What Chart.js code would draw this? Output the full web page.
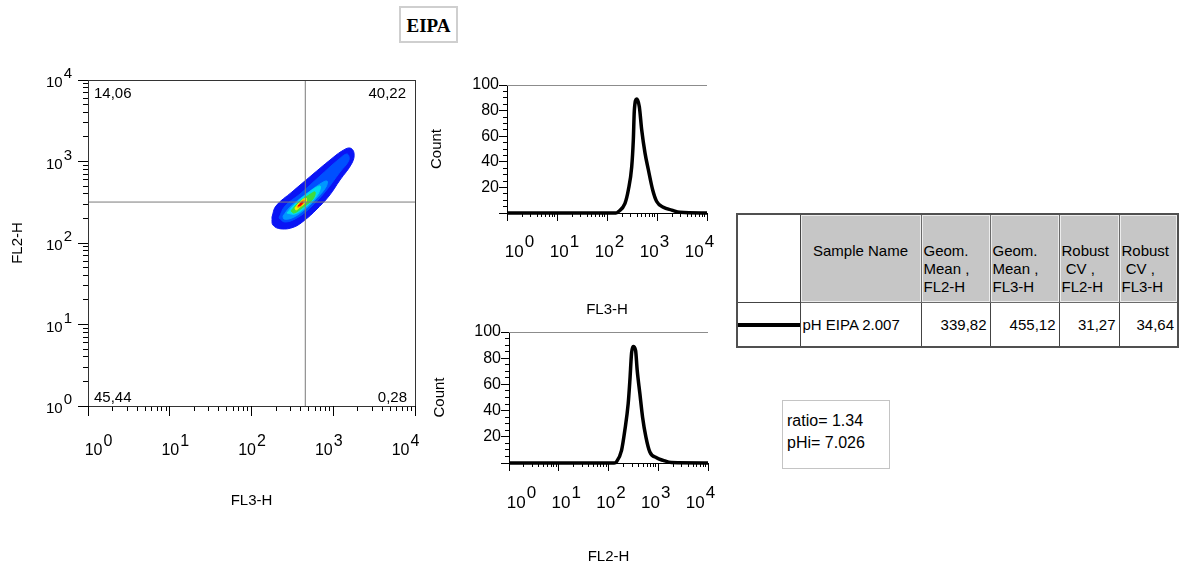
<!DOCTYPE html>
<html>
<head>
<meta charset="utf-8">
<script src="https://cdn.jsdelivr.net/npm/chart.js@4.4.1/dist/chart.umd.min.js"></script>
<style>
body { margin:0; background:#fff; width:1184px; height:569px; position:relative; overflow:hidden;
       font-family:'Liberation Sans', Arial, sans-serif; color:#000; }
canvas { position:absolute; }
#title { position:absolute; left:399px; top:6px; width:55px; height:33px; border:2px solid #cfcfcf;
         font:bold 19px 'Liberation Serif', serif; text-align:center; line-height:35px; }
#stats { position:absolute; left:736px; top:213px; width:441px; border-collapse:collapse;
         table-layout:fixed; border:2px solid #505050; font-size:15px; }
#stats th { background:#c6c6c6; border:1px solid #6a6a6a; box-shadow:inset 0 0 0 1px #ececec;
            font-weight:normal; text-align:left; vertical-align:top; padding:27px 0 0 2px;
            line-height:18px; white-space:pre; height:60px; }
#stats th.name { text-align:center; padding-left:0; }
#stats td { border:1px solid #444; height:43px; padding:0 3px 0 2px; text-align:right; vertical-align:middle; }
#stats td.key { padding:0; background:#fff; }
#stats td.sample { text-align:left; }
#stats tr.head td.key { border:1px solid #444; }
.swatch { height:4px; background:#000; }
#ratioBox { position:absolute; left:782px; top:400px; width:102px; height:58px; border:1px solid #c4c4c4;
            padding:9px 0 0 4px; font-size:16px; line-height:22px; }
</style>
</head>
<body>
<div id="title">EIPA</div>
<canvas id="dotPlot" width="440" height="470" style="left:0;top:60px"></canvas>
<canvas id="histFL3" width="300" height="250" style="left:425px;top:70px"></canvas>
<canvas id="histFL2" width="300" height="250" style="left:427px;top:317px"></canvas>
<table id="stats"></table>
<div id="ratioBox"></div>
<script>
// log axes: labelled decades, unlabelled 2..9 marks between them
const decades = [1, 10, 100, 1000, 10000];
const minorSteps = [2, 3, 4, 5, 6, 7, 8, 9];

// quadrant gate and its percentages (upper left, upper right, lower left, lower right)
const gateFL3 = 455;
const gateFL2 = 318;
const quadrantPct = ['14,06', '40,22', '45,44', '0,28'];

// density contours of the dot plot, outer to inner (FL3-H, FL2-H)
const level1FL3 = [178, 199, 313, 550, 913, 1279, 1603, 1794, 1696, 1209, 887, 615, 451, 331, 230, 183, 178];
const level1FL2 = [208, 284, 423, 683, 1043, 1345, 1464, 1272, 958, 593, 377, 254, 192, 157, 149, 166, 208];
const level2FL3 = [217, 257, 392, 689, 1143, 1473, 1558, 1209, 793, 519, 360, 257, 217];
const level2FL2 = [203, 284, 399, 664, 1043, 1236, 1043, 743, 423, 269, 203, 181, 203];
const level3FL3 = [243, 296, 451, 689, 838, 815, 615, 427, 313, 250, 243];
const level3FL2 = [214, 276, 388, 530, 576, 487, 347, 247, 203, 197, 214];
const level4FL3 = [272, 331, 491, 689, 651, 477, 340, 272];
const level4FL2 = [233, 293, 411, 501, 399, 284, 227, 233];
const level5FL3 = [304, 371, 505, 598, 565, 415, 331, 304];
const level5FL2 = [247, 310, 388, 423, 347, 269, 233, 247];
const level6FL3 = [340, 392, 464, 464, 392, 350, 340];
const level6FL2 = [269, 318, 357, 318, 276, 254, 269];
const level7FL3 = [360, 403, 439, 427, 381, 360];
const level7FL2 = [276, 318, 337, 301, 276, 276];
const level8FL3 = [371, 403, 427, 403, 371];
const level8FL2 = [284, 310, 318, 293, 284];

// histograms
const fl3Channel = [1, 150, 168, 229, 267, 312, 336, 352, 393, 443, 494, 575, 670, 820, 986, 1337, 1968, 2884, 10000];
const fl3Count   = [0, 0, 1, 7.6, 18, 36, 57, 80, 89, 83, 65, 47, 34, 18, 9, 4.5, 2.3, 0.5, 0];
const fl2Channel = [1, 130, 145, 183, 213, 249, 269, 291, 313, 350, 377, 427, 484, 564, 678, 924, 1253, 1849, 10000];
const fl2Count   = [0, 0, 1, 9.7, 25, 45.5, 63, 84, 89, 86, 71, 53, 35, 20, 8.4, 4, 2, 0.3, 0];

// statistics table and ratio note
const statHeaders = ['Sample Name', 'Geom.\nMean ,\nFL2-H', 'Geom.\nMean ,\nFL3-H', 'Robust\n CV ,\nFL2-H', 'Robust\n CV ,\nFL3-H'];
const sampleName = 'pH EIPA 2.007';
const statValues = ['339,82', '455,12', '31,27', '34,64'];
const ratioLines = ['ratio= 1.34', 'pHi= 7.026'];

const contours = [
  [level1FL3, level1FL2], [level2FL3, level2FL2], [level3FL3, level3FL2], [level4FL3, level4FL2],
  [level5FL3, level5FL2], [level6FL3, level6FL2], [level7FL3, level7FL2], [level8FL3, level8FL2]
];
const contourColors = ['#0a14f5', '#0050ff', '#0098ff', '#00dcf0', '#3edc3e', '#f2f200', '#ff8c00', '#ee0000'];

Chart.defaults.font.family = "'Liberation Sans', Arial, sans-serif";
Chart.defaults.color = '#000';

function logTicks(scale) {
  const t = [];
  decades.forEach(d => {
    t.push({value: d, major: true});
    if (d < 10000) minorSteps.forEach(m => t.push({value: d * m}));
  });
  scale.ticks = t;
}

function crisp(p) { return Math.round(p - 0.5) + 0.5; }

function seg(ctx, x1, y1, x2, y2) {
  ctx.beginPath(); ctx.moveTo(x1, y1); ctx.lineTo(x2, y2); ctx.stroke();
}

// "10" with a raised exponent
function drawPow(ctx, exp, anchorX, base, expBase, align) {
  const e = String(exp);
  const w1 = ctx.measureText('10').width;
  const w2 = ctx.measureText(e).width;
  const x0 = align === 'center' ? anchorX - (w1 + w2 + 1) / 2 : anchorX - (w1 + w2 + 1);
  ctx.textAlign = 'left';
  ctx.fillText('10', x0, base);
  ctx.fillText(e, x0 + w1 + 1, expBase);
}

const axisDecor = {
  id: 'axisDecor',
  afterDraw(chart, args, o) {
    const {ctx, chartArea: a, scales: {x, y}} = chart;
    ctx.save();
    ctx.strokeStyle = '#000';
    ctx.fillStyle = '#000';
    ctx.lineWidth = 1;
    ctx.textBaseline = 'alphabetic';

    if (o.frame) {
      ctx.strokeStyle = '#333';
      ctx.strokeRect(crisp(a.left), crisp(a.top), Math.round(a.right - a.left), Math.round(a.bottom - a.top));
      ctx.strokeStyle = '#000';
    }
    if (o.topLine) {
      ctx.strokeStyle = '#8c8c8c';
      seg(ctx, a.left, crisp(a.top), a.right, crisp(a.top));
      ctx.strokeStyle = '#000';
    }

    // long marks at decades
    decades.forEach(d => {
      const px = crisp(x.getPixelForValue(d));
      seg(ctx, px, a.bottom, px, a.bottom + o.majorLen);
    });
    if (o.logY) {
      decades.forEach(d => {
        const py = crisp(y.getPixelForValue(d));
        seg(ctx, a.left - o.majorLen, py, a.left, py);
      });
    } else {
      y.ticks.forEach(t => {
        if (t.value % 20 === 0) {
          const py = crisp(y.getPixelForValue(t.value));
          seg(ctx, a.left - o.majorLen, py, a.left, py);
        }
      });
    }

    // x decade labels
    ctx.font = o.xFont;
    decades.forEach((d, k) => {
      const px = x.getPixelForValue(d) + (o.xShift - k) * 5;
      drawPow(ctx, Math.round(Math.log10(d)), px, a.bottom + o.xBase, a.bottom + o.xExpBase, 'center');
    });
    if (o.logY) {
      ctx.font = o.yFont;
      decades.forEach(d => {
        const py = y.getPixelForValue(d);
        drawPow(ctx, Math.round(Math.log10(d)), a.left - 16, py + 7, py - 2, 'right');
      });
    }

    if (o.quadrants) {
      ctx.font = "15px 'Liberation Sans', Arial, sans-serif";
      ctx.textAlign = 'left';
      ctx.fillText(quadrantPct[0], a.left + 6, a.top + 18);
      ctx.fillText(quadrantPct[2], a.left + 6, a.bottom - 4);
      ctx.textAlign = 'right';
      ctx.fillText(quadrantPct[1], a.right - 9, a.top + 18);
      ctx.fillText(quadrantPct[3], a.right - 8, a.bottom - 4);
    }
    ctx.restore();
  }
};

// ---- dot plot ----
const contourSets = contours.map(([xs, ys], i) => ({
  data: xs.map((v, j) => ({x: v, y: ys[j]})),
  showLine: true,
  fill: 'shape',
  tension: 0.4,
  backgroundColor: contourColors[i],
  borderColor: contourColors[i],
  borderWidth: 1,
  pointRadius: 0,
  order: 20 - i
}));
const gateSets = [
  {data: [{x: gateFL3, y: 1}, {x: gateFL3, y: 10000}]},
  {data: [{x: 1, y: gateFL2}, {x: 10000, y: gateFL2}]}
].map(s => Object.assign(s, {showLine: true, borderColor: '#7a7a7a', borderWidth: 1, pointRadius: 0, order: 0}));

new Chart(document.getElementById('dotPlot'), {
  type: 'scatter',
  data: {datasets: contourSets.concat(gateSets)},
  options: {
    responsive: false,
    animation: false,
    layout: {padding: {top: 20, right: 25, bottom: 0, left: 0}},
    plugins: {
      legend: {display: false},
      tooltip: {enabled: false},
      axisDecor: {frame: true, logY: true, quadrants: true, majorLen: 10,
                  xFont: "16px 'Liberation Sans', Arial, sans-serif", xShift: 2.1, xBase: 49, xExpBase: 40,
                  yFont: "15px 'Liberation Sans', Arial, sans-serif"}
    },
    scales: {
      x: {
        type: 'logarithmic', min: 1, max: 10000,
        afterBuildTicks: logTicks,
        afterFit: s => { s.height = 124; },
        ticks: {display: false},
        grid: {drawOnChartArea: false, tickLength: 5, color: '#000'},
        border: {color: '#000'},
        title: {display: true, text: 'FL3-H', font: {size: 15}, padding: {top: 0, bottom: 20}}
      },
      y: {
        type: 'logarithmic', min: 1, max: 10000,
        afterBuildTicks: logTicks,
        afterFit: s => { s.width = 88; },
        ticks: {display: false},
        grid: {drawOnChartArea: false, tickLength: 5, color: '#000'},
        border: {color: '#000'},
        title: {display: true, text: 'FL2-H', font: {size: 15}, padding: {top: 9, bottom: 0}}
      }
    }
  },
  plugins: [axisDecor]
});

// ---- histograms ----
function histogram(id, channel, count, xTitle, g) {
  new Chart(document.getElementById(id), {
    type: 'scatter',
    data: {
      datasets: [{
        data: channel.map((v, i) => ({x: v, y: count[i]})),
        showLine: true,
        cubicInterpolationMode: 'monotone',
        borderColor: '#000',
        borderWidth: 3.5,
        pointRadius: 0,
        clip: false
      }]
    },
    options: {
      responsive: false,
      animation: false,
      layout: {padding: {top: 15, right: g.right, bottom: 0, left: 0}},
      plugins: {
        legend: {display: false},
        tooltip: {enabled: false},
        axisDecor: {topLine: true, majorLen: 8,
                    xFont: "17px 'Liberation Sans', Arial, sans-serif", xShift: 2.5, xBase: g.xBase, xExpBase: g.xBase - 10}
      },
      scales: {
        x: {
          type: 'logarithmic', min: 1, max: 10000,
          afterBuildTicks: logTicks,
          afterFit: s => { s.height = g.xHeight; },
          ticks: {display: false},
          grid: {drawOnChartArea: false, tickLength: 4, color: '#000'},
          border: {color: '#000'},
          title: {display: true, text: xTitle, font: {size: 15}, padding: {top: 0, bottom: 1}}
        },
        y: {
          type: 'linear', min: 0, max: 100,
          afterFit: s => { s.width = 82; },
          ticks: {stepSize: 5, autoSkip: false, padding: 4, font: {size: 16},
                  callback: v => (v % 20 === 0 && v > 0 ? v : '')},
          grid: {drawOnChartArea: false, tickLength: 4, color: '#000'},
          border: {color: '#000'},
          title: {display: true, text: 'Count', font: {size: 15}, padding: {top: g.titlePad, bottom: 0}}
        }
      }
    },
    plugins: [axisDecor]
  });
}

histogram('histFL3', fl3Channel, fl3Count, 'FL3-H', {right: 18, xHeight: 107, xBase: 44, titlePad: 3});
histogram('histFL2', fl2Channel, fl2Count, 'FL2-H', {right: 19, xHeight: 104, xBase: 45, titlePad: 4});

// ---- statistics table ----
const table = document.getElementById('stats');
table.innerHTML =
  '<colgroup><col style="width:63px"><col style="width:121px"><col style="width:69px">' +
  '<col style="width:69px"><col style="width:60px"><col style="width:59px"></colgroup>';
const head = table.insertRow();
head.className = 'head';
head.insertCell().className = 'key';
statHeaders.forEach((h, i) => {
  const th = document.createElement('th');
  th.textContent = h;
  if (i === 0) th.className = 'name';
  head.appendChild(th);
});
const row = table.insertRow();
const key = row.insertCell();
key.className = 'key';
key.innerHTML = '<div class="swatch"></div>';
const nameCell = row.insertCell();
nameCell.className = 'sample';
nameCell.textContent = sampleName;
statValues.forEach(v => { row.insertCell().textContent = v; });

document.getElementById('ratioBox').innerHTML = ratioLines.join('<br>');
</script>
</body>
</html>
